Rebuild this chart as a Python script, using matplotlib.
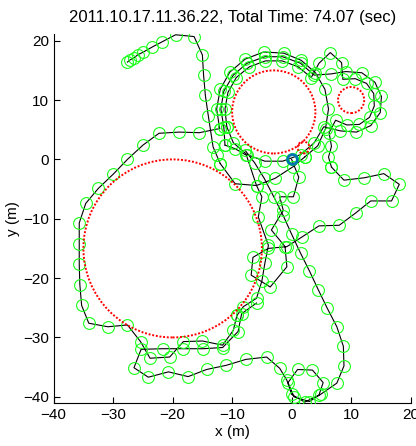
import matplotlib
matplotlib.use("Agg")
import matplotlib.pyplot as plt

plt.rcParams['font.family'] = ['Liberation Sans', 'DejaVu Sans']

title = "2011.10.17.11.36.22, Total Time: 74.07 (sec)"
x_ticks = [-40, -30, -20, -10, 0, 10, 20]
y_ticks = [-40, -30, -20, -10, 0, 10, 20]

# obstacles: centre x, centre y, radius
obs_cx = [-20.0, -3.0, 10.0, 2.0]
obs_cy = [-15.0, 8.0, 10.0, 2.0]
obs_r = [15.0, 7.0, 2.2, 1.0]

start_x = [0.0]
start_y = [0.0]

# trajectory segments (consecutive, markers at every vertex)
arm_x = [-27.6, -27.1, -26.5, -25.9, -24.9, -23.5, -21.8, -19.5, -16.4, -15.0, -14.8, -14.5, -14.0, -13.2, -12.6, -12.0]
arm_y = [16.4, 16.8, 17.1, 17.6, 18.1, 18.9, 19.8, 21.0, 20.7, 17.6, 14.2, 10.8, 7.3, 2.1, 0.7, -0.7]

cross_x = [-12.0, -9.5, -5.9, -2.8, 0.3, 2.2]
cross_y = [-0.7, -4.1, -4.4, -3.2, -1.2, 0.4]

loop1_x = [2.2, 4.4, 5.7, 6.2, 5.6, 4.0, 1.6, -1.3, -4.7, -7.8, -10.4, -12.0, -12.6, -12.1]
loop1_y = [0.4, 2.3, 5.2, 8.5, 11.8, 14.6, 16.7, 17.9, 18.1, 16.9, 14.7, 11.8, 8.5, 5.2]

left_x = [-12.1, -15.5, -18.9, -22.3, -25.0, -27.6, -30.0, -32.5, -34.6, -35.7, -35.7, -35.7, -35.6, -35.3,
          -34.1, -30.9, -27.6, -25.4, -23.8, -20.5, -18.2, -15.0, -11.6, -9.8, -9.2]
left_y = [5.2, 4.5, 4.6, 4.4, 2.4, 0.0, -2.5, -4.9, -7.4, -10.7, -14.2, -17.7, -21.1, -24.6,
          -27.6, -28.2, -27.9, -30.7, -33.5, -33.3, -30.7, -30.6, -31.3, -28.8, -26.3]

mid_x = [-9.2, -8.1, -5.9, -5.0, -4.5, -3.9, -5.6, -5.0, -5.9, -7.6, -9.5, -11.2]
mid_y = [-26.3, -24.8, -23.4, -20.5, -17.5, -14.5, -9.7, -6.3, -4.4, 0.7, 1.8, 2.4]

loop2_x = [-11.2, -11.4, -11.9, -11.4, -9.8, -7.5, -4.5, -1.5, 1.5, 3.8, 6.6, 9.1, 11.8, 14.0, 15.1, 14.9,
           13.3, 10.9, 8.2, 5.4, 3.8, 1.5, -1.5, -4.5, -7.5, -9.8, -10.9]
loop2_y = [2.4, 5.5, 8.5, 11.5, 14.2, 16.2, 17.3, 17.3, 16.2, 14.2, 14.4, 14.8, 14.6, 13.0, 10.6, 7.9,
           5.7, 4.6, 4.8, 5.5, 2.8, 0.8, -0.3, -0.3, 0.8, 2.8, 5.5]

loop3_x = [-10.9, -11.2, -10.7, -9.3, -7.1, -4.4, -1.6, 1.1, 3.3, 4.6, 6.5, 8.4, 8.6, 10.7, 12.6, 13.8,
           13.9, 13.1, 11.4, 9.3, 7.4, 6.3, 6.7, 6.2, 6.7]
loop3_y = [5.5, 8.5, 11.3, 13.8, 15.6, 16.6, 16.6, 15.6, 13.8, 16.2, 18.0, 16.3, 13.5, 13.6, 12.8, 11.1,
           9.0, 7.1, 5.9, 5.8, 6.6, 4.5, 2.2, 0.4, -1.3]

meander_x = [6.7, 8.8, 12.2, 15.5, 18.1, 16.8, 13.3, 10.8, 8.0, 4.6, 1.7, -0.8, -3.9,
             -6.5, -6.8, -3.6, -0.8, -1.1, -3.4, -1.4, -2.0, 0.3, 1.2, 0.0]
meander_y = [-1.3, -3.5, -3.1, -2.4, -4.2, -7.0, -7.0, -9.0, -11.1, -11.2, -13.1, -14.7, -15.0,
             -16.5, -19.5, -21.5, -18.1, -14.7, -11.9, -8.6, -6.3, -6.3, -3.0, 0.0]

low_x = [-5.9, -8.4, -9.0, -11.6, -14.9, -18.2, -21.7, -25.3, -26.5, -24.1, -20.7, -17.4, -14.3, -11.0, -7.7,
         -4.2, -2.0, -0.8, 0.0, 2.2, 4.6, 5.3, 3.5, 1.0, -0.6, 0.4, 3.0, 5.0, 7.6, 8.8, 8.7, 7.6, 6.0, 4.5,
         3.0, 1.5, 0.0, -1.4, -3.0, -4.6, -6.2, -7.8]
low_y = [-24.2, -26.0, -29.0, -31.7, -31.9, -31.9, -31.9, -32.0, -35.1, -36.7, -35.8, -36.6, -35.4, -34.7, -33.7,
         -33.3, -35.2, -37.2, -39.6, -40.9, -39.7, -37.6, -35.5, -35.4, -37.6, -40.0, -40.8, -39.5, -37.7, -34.8,
         -31.5, -28.2, -25.1, -22.0, -18.8, -15.8, -12.6, -9.5, -6.3, -3.2, -0.6, 1.5]

segments = [(arm_x, arm_y), (cross_x, cross_y), (loop1_x, loop1_y), (left_x, left_y), (mid_x, mid_y),
            (loop2_x, loop2_y), (loop3_x, loop3_y), (meander_x, meander_y), (low_x, low_y)]

fig = plt.figure(figsize=(4.16, 4.46), dpi=100)
ax = fig.add_axes([0.129, 0.0957, 0.858, 0.829])

for sx, sy in segments:
    ax.plot(sx, sy, color='black', lw=0.8, zorder=2)
for sx, sy in segments:
    ax.plot(sx, sy, linestyle='none', marker='o', ms=8.5, mfc='none', mec=(0.1, 1.0, 0.1), mew=0.8, zorder=3)

for cx, cy, r in zip(obs_cx, obs_cy, obs_r):
    circ = matplotlib.patches.Circle((cx, cy), r, fill=False, edgecolor='red', lw=1.4,
                                     linestyle=(0, (1, 0.9)), zorder=4)
    ax.add_patch(circ)

ax.plot(start_x, start_y, linestyle='none', marker='o', ms=7, mfc='none', mec=(0.0, 0.45, 0.7), mew=2, zorder=5)

ax.set_xlim(-40, 20)
ax.set_ylim(-41.1, 21.2)
ax.set_xticks(x_ticks)
ax.set_yticks(y_ticks)
ax.spines['top'].set_visible(False)
ax.spines['right'].set_visible(False)
ax.tick_params(direction='in', length=4, labelsize=11, width=0.8)
ax.set_xlabel('x (m)', fontsize=11, labelpad=2)
ax.set_ylabel('y (m)', fontsize=11, labelpad=2)
ax.set_title(title, fontsize=12, pad=8)

fig.savefig('out.png', dpi=100)
